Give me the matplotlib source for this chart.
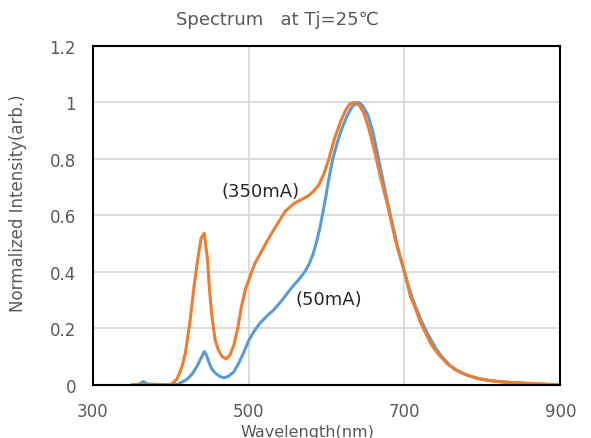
import matplotlib.pyplot as plt

# 350mA spectrum
wl_350 = [350, 400, 408, 414, 419, 425, 430, 435, 439, 443, 447, 450, 453, 457, 461,
          466, 471, 476, 481, 486, 491, 496, 502, 508, 515, 528, 537, 547, 558, 567,
          576, 583, 590, 597, 603, 610, 618, 624, 630, 636, 642, 648, 654, 661, 668,
          678, 689, 700, 708, 713, 720, 726, 735, 744, 755, 765, 778, 791, 805, 821,
          840, 864, 900]
int_350 = [0, 0, 0.02, 0.06, 0.115, 0.23, 0.35, 0.45, 0.52, 0.537, 0.45, 0.33, 0.24, 0.16, 0.125,
           0.1, 0.092, 0.105, 0.14, 0.2, 0.28, 0.34, 0.385, 0.43, 0.465, 0.53, 0.57, 0.615, 0.642, 0.655,
           0.668, 0.685, 0.707, 0.75, 0.8, 0.87, 0.932, 0.97, 0.995, 1.0, 0.99, 0.962, 0.91, 0.835, 0.75,
           0.64, 0.506, 0.4, 0.31, 0.28, 0.225, 0.19, 0.14, 0.107, 0.075, 0.054, 0.037, 0.025, 0.017, 0.012,
           0.008, 0.005, 0]

# 50mA spectrum
wl_50 = [350, 360, 365, 370, 380, 400, 410, 421, 428, 434, 439, 443, 446, 449, 453,
         458, 463, 468, 474, 481, 487, 493, 500, 507, 515, 524, 532, 543, 554, 565,
         572, 578, 583, 587, 591, 595, 599, 603, 608, 614, 620, 627, 633, 638, 641, 646,
         653, 660, 666, 672, 682, 692, 703, 711, 722, 730, 740, 748, 758, 768, 781,
         795, 810, 825, 845, 870, 900]
int_50 = [0, 0.003, 0.012, 0.003, 0.002, 0, 0.003, 0.02, 0.04, 0.067, 0.095, 0.118, 0.105, 0.08, 0.055,
          0.04, 0.03, 0.025, 0.03, 0.046, 0.075, 0.11, 0.156, 0.19, 0.22, 0.245, 0.265, 0.3, 0.34, 0.375,
          0.4, 0.43, 0.465, 0.505, 0.55, 0.605, 0.665, 0.73, 0.8, 0.86, 0.91, 0.956, 0.985, 0.996, 1.0, 0.99,
          0.956, 0.89, 0.81, 0.73, 0.6, 0.48, 0.37, 0.3, 0.225, 0.18, 0.13, 0.1, 0.07, 0.05, 0.034,
          0.022, 0.015, 0.01, 0.007, 0.003, 0]

x_ticks = [300, 500, 700, 900]
y_ticks = [0, 0.2, 0.4, 0.6, 0.8, 1.0, 1.2]
y_labels = ['0', '0.2', '0.4', '0.6', '0.8', '1', '1.2']

plt.rcParams['font.family'] = ['DejaVu Sans', 'Noto Sans CJK JP']
gray = '#595959'

fig = plt.figure(figsize=(5.91, 4.39), dpi=100)
ax = fig.add_axes([0.157, 0.121, 0.791, 0.772])

ax.plot(wl_50, int_50, color='#5B9BD5', lw=2.2, solid_capstyle='round')
ax.plot(wl_350, int_350, color='#ED7D31', lw=2.2, solid_capstyle='round')

ax.set_xlim(300, 900)
ax.set_ylim(0, 1.2)
ax.set_xticks(x_ticks)
ax.set_yticks(y_ticks)
ax.set_yticklabels(y_labels)
ax.tick_params(length=0, labelsize=12, colors=gray, pad=12)
ax.grid(True, color='#D9D9D9', lw=1.3)
ax.set_axisbelow(True)
for s in ax.spines.values():
    s.set_color('black')
    s.set_linewidth(1.5)

# curve labels
ax.text(515, 0.688, '(350mA)', fontsize=13, ha='center', va='center', color='#262626')
ax.text(603, 0.305, '(50mA)', fontsize=13, ha='center', va='center', color='#262626')

ax.set_xlabel('Wavelength(nm)', fontsize=11.5, color=gray)
ax.xaxis.set_label_coords(0.46, -0.115)
ax.set_ylabel('Normalized Intensity(arb.)', fontsize=12, color=gray)
ax.yaxis.set_label_coords(-0.14, 0.54)
fig.text(0.47, 0.955, 'Spectrum   at Tj=25℃', fontsize=13, color=gray, ha='center', va='center')

fig.savefig('out.png', dpi=100)
